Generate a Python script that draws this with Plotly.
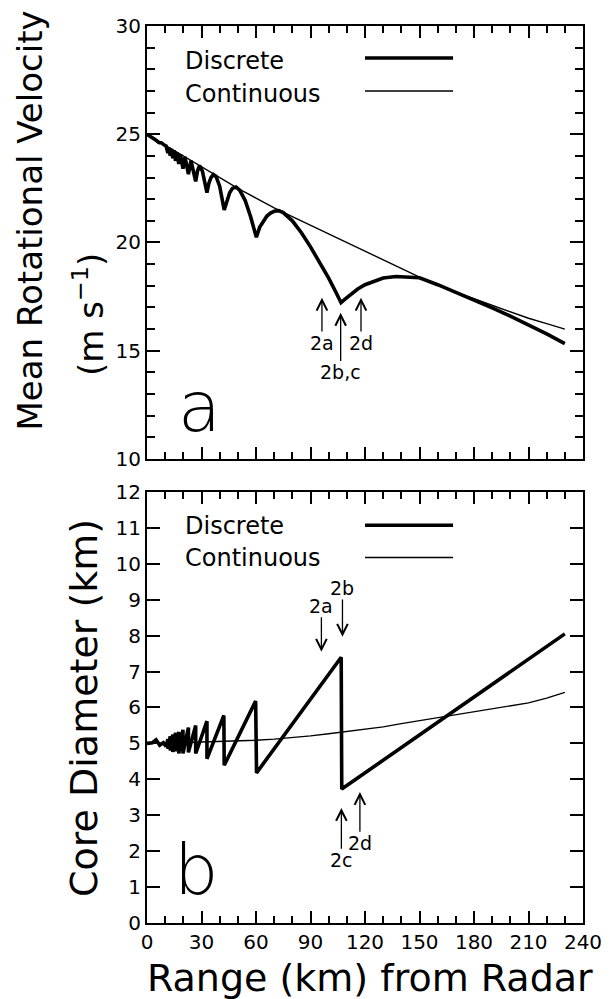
import plotly.graph_objects as go

# ---------------- data ----------------
range_cont = [0, 10, 20, 30, 40, 50, 60, 70, 80, 90, 100, 110, 120, 130, 140, 150,
              160, 170, 180, 190, 200, 210, 220, 230]
vel_cont = [25.0, 24.5, 24.0, 23.5, 23.0, 22.5, 22.05, 21.6, 21.2, 20.8, 20.4, 20.0,
            19.6, 19.2, 18.8, 18.4, 18.05, 17.7, 17.4, 17.1, 16.8, 16.5, 16.25, 16.0]
diam_cont = [5.0, 5.0, 5.02, 5.04, 5.05, 5.07, 5.09, 5.12, 5.16, 5.21, 5.27, 5.33,
             5.39, 5.46, 5.55, 5.63, 5.72, 5.8, 5.88, 5.96, 6.04, 6.13, 6.26, 6.42]

range_vel_disc = [0, 3, 5, 6.5, 8, 9.5, 10.5, 11.5, 12.1, 12.8, 13.4, 14.2, 14.9, 15.7,
                  16.4, 17.5, 18.4, 19.8, 20.9, 22.8, 24.2, 26.8, 27.8, 28.9, 30.5, 33.0,
                  34.0, 35.2, 36.5, 38.0, 40.0, 42.5, 44.0, 45.5, 47.0, 49.0, 51.0, 54.0,
                  57.0, 60.2, 62.0, 64.0, 66.0, 68.0, 70.0, 72.5, 75.0, 80.0, 85.0, 90.0,
                  95.0, 100.0, 104.0, 106.8, 109.0, 112.0, 116.0, 120.0, 125.0, 130.0,
                  137.0, 143.0, 150.0, 160.0, 170.0, 180.0, 190.0, 200.0, 210.0, 220.0, 230.0]
vel_disc = [25.0, 24.85, 24.72, 24.62, 24.6, 24.5, 24.46, 24.13, 24.38, 24.01, 24.32, 23.89,
            24.25, 23.77, 24.17, 23.63, 24.07, 23.41, 23.95, 23.16, 23.78, 22.82, 23.3, 23.55,
            23.3, 22.3, 22.72, 23.0, 23.14, 23.05, 22.6, 21.5, 21.98, 22.3, 22.5, 22.56,
            22.42, 21.95, 21.2, 20.24, 20.7, 21.0, 21.22, 21.36, 21.44, 21.47, 21.38, 21.0,
            20.45, 19.8, 19.1, 18.35, 17.7, 17.22, 17.38, 17.58, 17.85, 18.05, 18.22, 18.36,
            18.43, 18.42, 18.37, 18.05, 17.7, 17.35, 16.98, 16.6, 16.2, 15.78, 15.33]

range_diam_disc = [0, 3, 5, 7, 9, 10.5, 11.5, 11.5, 12.8, 12.8, 14.2, 14.2, 15.7, 15.7,
                   17.5, 17.5, 19.8, 19.8, 22.8, 22.8, 26.8, 26.8, 33.0, 33.0, 42.3, 42.5,
                   59.8, 60.3, 106.9, 107.2, 230]
diam_disc = [5.0, 5.02, 5.1, 4.95, 5.02, 4.92, 5.12, 4.85, 5.2, 4.8, 5.25, 4.76, 5.3, 4.78,
             5.32, 4.72, 5.38, 4.72, 5.44, 4.75, 5.5, 4.72, 5.62, 4.57, 5.78, 4.39,
             6.18, 4.18, 7.4, 3.73, 8.05]

x_ticks = [0, 30, 60, 90, 120, 150, 180, 210, 240]
vel_ticks = [10, 15, 20, 25, 30]
diam_ticks = list(range(0, 13))

# arrow annotations: (label, label x, label y, arrow-head x, arrow-head y)
vel_arrows = [("2a", 96.3, 15.36, 96.3, 17.45),
              ("2b,c", 106.6, 14.0, 106.6, 16.75),
              ("2d", 117.8, 15.36, 117.8, 17.45)]
diam_arrows = [("2a", 96.0, 8.83, 96.0, 7.55),
               ("2b", 107.6, 9.33, 107.6, 7.97),
               ("2c", 107.0, 1.75, 107.0, 3.2),
               ("2d", 117.2, 2.22, 117.2, 3.65)]

FONT = "DejaVu Sans"
W_DISC = 3.6
W_CONT = 1.4

fig = go.Figure()
fig.add_trace(go.Scatter(x=range_cont, y=vel_cont, mode="lines", line=dict(color="black", width=W_CONT),
                         xaxis="x", yaxis="y", name="Continuous"))
fig.add_trace(go.Scatter(x=range_vel_disc, y=vel_disc, mode="lines", line=dict(color="black", width=W_DISC),
                         xaxis="x", yaxis="y", name="Discrete"))
fig.add_trace(go.Scatter(x=range_cont, y=diam_cont, mode="lines", line=dict(color="black", width=W_CONT),
                         xaxis="x2", yaxis="y2", name="Continuous"))
fig.add_trace(go.Scatter(x=range_diam_disc, y=diam_disc, mode="lines", line=dict(color="black", width=W_DISC),
                         xaxis="x2", yaxis="y2", name="Discrete"))

common = dict(showline=True, linecolor="black", linewidth=2, mirror="ticks", ticks="inside",
              tickcolor="black", tickwidth=1.5, showgrid=False, zeroline=False,
              tickfont=dict(family=FONT, size=20, color="black"))
xcommon = dict(common, range=[0, 240], tickvals=x_ticks, ticklen=12,
               minor=dict(dtick=10, ticklen=7, ticks="inside", tickcolor="black", tickwidth=1.5, showgrid=False))

fig.update_layout(
    width=616, height=999, showlegend=False,
    paper_bgcolor="white", plot_bgcolor="white",
    margin=dict(l=147, r=33, t=26, b=76),
    xaxis=dict(xcommon, domain=[0, 1], anchor="y", showticklabels=False),
    yaxis=dict(common, domain=[0.5173, 1], anchor="x", range=[10, 30], tickvals=vel_ticks, ticklen=13,
               minor=dict(dtick=1, ticklen=8, ticks="inside", tickcolor="black", tickwidth=1.5, showgrid=False)),
    xaxis2=dict(xcommon, domain=[0, 1], anchor="y2"),
    yaxis2=dict(common, domain=[0, 0.4805], anchor="x2", range=[0, 12], tickvals=diam_ticks, ticklen=13),
)

ann = []
shapes = []
# legends
for xr, yr, ys in (("x domain", "y domain", (0.92, 0.843, 0.926, 0.85)),
                   ("x2 domain", "y2 domain", (0.921, 0.847, 0.923, 0.848))):
    ann.append(dict(text="Discrete", xref=xr, yref=yr, x=0.082, y=ys[0], xanchor="left", yanchor="middle",
                    showarrow=False, font=dict(family=FONT, size=24, color="black")))
    ann.append(dict(text="Continuous", xref=xr, yref=yr, x=0.082, y=ys[1], xanchor="left", yanchor="middle",
                    showarrow=False, font=dict(family=FONT, size=24, color="black")))
    shapes.append(dict(type="line", xref=xr, yref=yr, x0=0.5, x1=0.702, y0=ys[2], y1=ys[2],
                       line=dict(color="black", width=W_DISC)))
    shapes.append(dict(type="line", xref=xr, yref=yr, x0=0.5, x1=0.702, y0=ys[3], y1=ys[3],
                       line=dict(color="black", width=W_CONT)))

# panel letters
ann.append(dict(text="a", xref="x domain", yref="y domain", x=0.067, y=0.021, showarrow=False,
                font=dict(family=FONT, size=70, color="black", weight=200)))
ann.append(dict(text="b", xref="x2 domain", yref="y2 domain", x=0.058, y=0.023, showarrow=False,
                font=dict(family=FONT, size=70, color="black", weight=200)))

# arrows: label sits at the arrow tail, arrow runs from the label to the head
for axx, axy, arrows in (("x", "y", vel_arrows), ("x2", "y2", diam_arrows)):
    for lab, xl, yl, xh, yh in arrows:
        ann.append(dict(text=lab, x=xh, y=yh, ax=xl, ay=yl, xref=axx, yref=axy, axref=axx, ayref=axy,
                        showarrow=True, arrowhead=5, arrowsize=1.6, arrowwidth=1.3, arrowcolor="black",
                        standoff=0, borderpad=0,
                        font=dict(family=FONT, size=19, color="black")))

# axis titles
ann.append(dict(text="Mean Rotational Velocity", xref="paper", yref="paper", x=-0.268, y=0.547,
                xanchor="center", yanchor="bottom", textangle=-90, showarrow=False,
                font=dict(family=FONT, size=34, color="black")))
ann.append(dict(text="(m s<sup>−1</sup>)", xref="paper", yref="paper", x=-0.135, y=0.678,
                xanchor="center", yanchor="middle", textangle=-90, showarrow=False,
                font=dict(family=FONT, size=34, color="black")))
ann.append(dict(text="Core Diameter (km)", xref="paper", yref="paper", x=-0.1445, y=0.2397,
                xanchor="center", yanchor="middle", textangle=-90, showarrow=False,
                font=dict(family=FONT, size=38, color="black")))
ann.append(dict(text="Range (km) from Radar", xref="paper", yref="paper", x=0.511, y=-0.061,
                xanchor="center", yanchor="middle", showarrow=False,
                font=dict(family=FONT, size=38, color="black")))

fig.update_layout(annotations=ann, shapes=shapes)
fig.write_html("out.html")
